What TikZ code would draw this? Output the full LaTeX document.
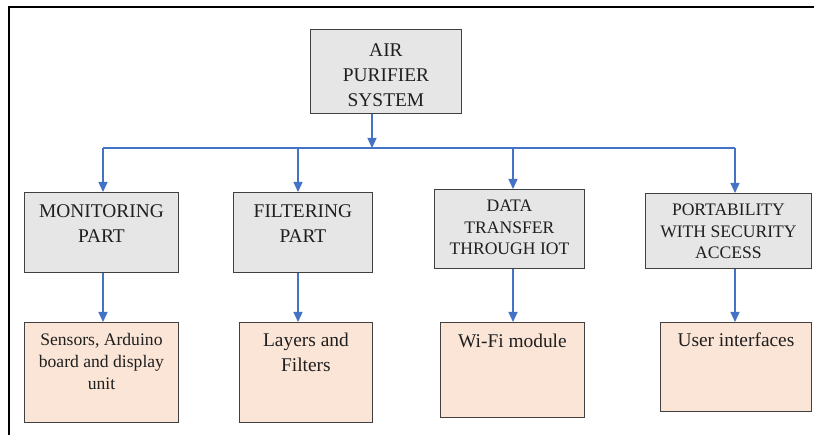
\documentclass[tikz,border=0pt]{standalone}
\usepackage{fontspec}
\setmainfont{Liberation Serif}
\usetikzlibrary{arrows.meta,positioning}
\definecolor{ink}{HTML}{1F1F1F}
\definecolor{edge}{HTML}{404040}
\definecolor{blue}{HTML}{4472C4}
\definecolor{grayfill}{HTML}{E7E6E6}
\definecolor{peachfill}{HTML}{FBE5D6}
\tikzset{
  box/.style={draw=edge, line width=0.9pt, anchor=north west, inner sep=0pt},
  graybox/.style={box, fill=grayfill},
  peachbox/.style={box, fill=peachfill},
  bigtext/.style={align=center, inner sep=0pt, text=ink, font=\fontsize{19.4}{25}\selectfont},
  smalltext/.style={align=center, inner sep=0pt, text=ink, font=\fontsize{17.6}{21.8}\selectfont},
  arrow/.style={-{Triangle[length=10pt,width=9pt]}, line width=1.3pt, draw=blue},
  bus/.style={line width=1.3pt, draw=blue},
  frame/.style={line width=2pt, draw=black},
}
\begin{document}
\begin{tikzpicture}[x=1pt, y=-1pt]
\useasboundingbox (0,0) rectangle (814,435);
\draw[frame] (9,435) -- (9,7) -- (814,7);
% root box
\node[graybox, minimum width=151pt, minimum height=84pt] (sys) at (310,29) {};
\node[bigtext, below=14pt of sys.north] (sys-t) {AIR\\PURIFIER\\SYSTEM};
% parts
\node[graybox, minimum width=154pt, minimum height=80pt] (mon) at (24,192) {};
\node[bigtext, below=12pt of mon.north] (mon-t) {MONITORING\\PART};
\node[graybox, minimum width=139pt, minimum height=80pt] (filt) at (233,192) {};
\node[bigtext, below=12pt of filt.north] (filt-t) {FILTERING\\PART};
\node[graybox, minimum width=150pt, minimum height=79pt] (iot) at (434,189) {};
\node[smalltext, below=10.5pt of iot.north] (iot-t) {DATA\\TRANSFER\\THROUGH IOT};
\node[graybox, minimum width=166pt, minimum height=75pt] (port) at (645,193) {};
\node[smalltext, below=10.5pt of port.north] (port-t) {PORTABILITY\\WITH SECURITY\\ACCESS};
% components
\node[peachbox, minimum width=154pt, minimum height=100pt] (sens) at (24,322) {};
\node[smalltext, below=11pt of sens.north] (sens-t) {Sensors, Arduino\\board and display\\unit};
\node[peachbox, minimum width=133pt, minimum height=100pt] (lay) at (239,322) {};
\node[bigtext, below=11pt of lay.north] (lay-t) {Layers and\\Filters};
\node[peachbox, minimum width=144pt, minimum height=95pt] (wifi) at (440,322) {};
\node[bigtext, below=12pt of wifi.north] (wifi-t) {Wi-Fi module};
\node[peachbox, minimum width=151pt, minimum height=89pt] (ui) at (660,322) {};
\node[bigtext, below=11pt of ui.north] (ui-t) {User interfaces};
% connectors
\coordinate (hub) at (372,148);
\coordinate (d1) at (103,148);
\coordinate (d2) at (298,148);
\coordinate (d3) at (513,148);
\coordinate (d4) at (735,148);
\draw[bus] (d1) -- (d4);
\draw[arrow] (sys.south -| hub) -- (hub);
\draw[arrow] (d1) -- (d1 |- mon.north);
\draw[arrow] (d2) -- (d2 |- filt.north);
\draw[arrow] (d3) -- (d3 |- iot.north);
\draw[arrow] (d4) -- (d4 |- port.north);
\draw[arrow] (mon.south -| d1) -- (sens.north -| d1);
\draw[arrow] (filt.south -| d2) -- (lay.north -| d2);
\draw[arrow] (iot.south -| d3) -- (wifi.north -| d3);
\draw[arrow] (port.south -| d4) -- (ui.north -| d4);
\end{tikzpicture}
\end{document}
